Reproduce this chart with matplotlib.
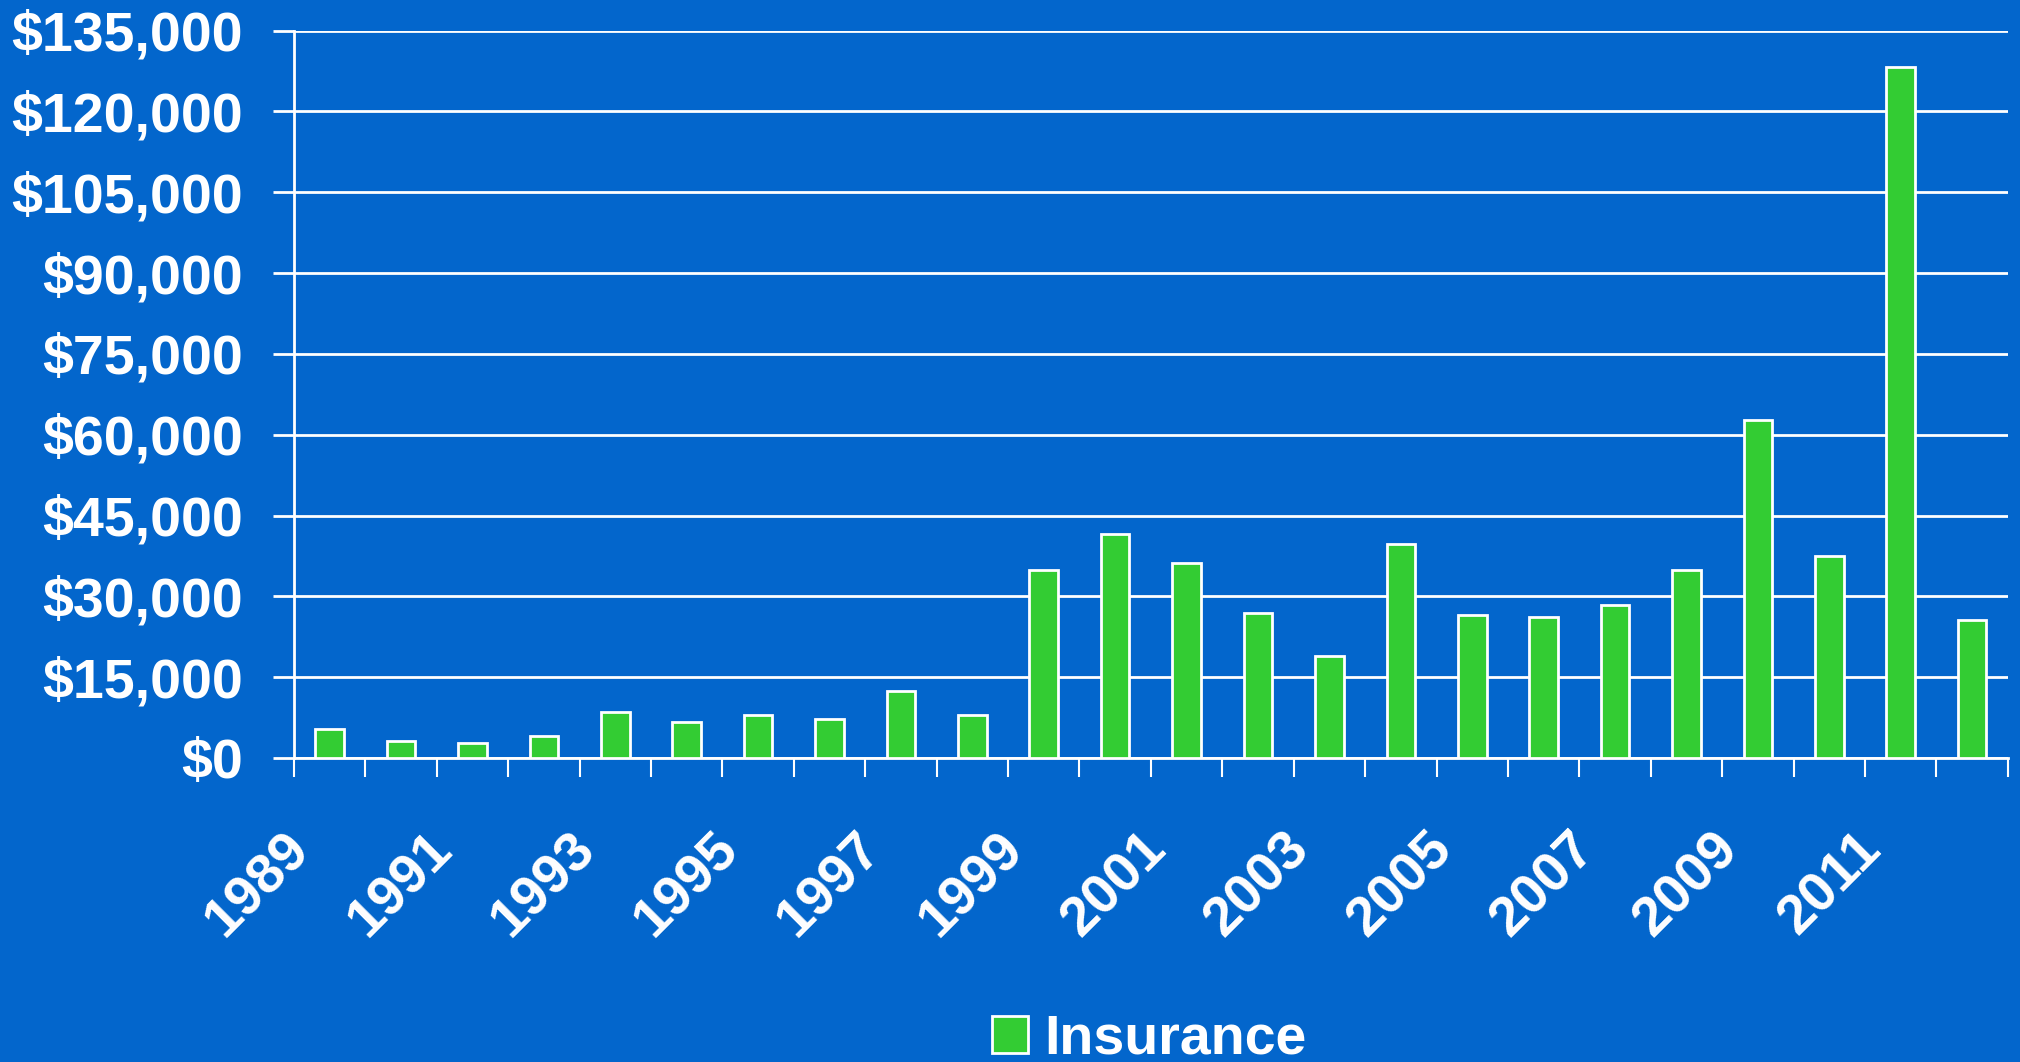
import numpy as np
import matplotlib.pyplot as plt
import matplotlib.transforms as mtransforms
from matplotlib.ticker import FuncFormatter, FixedLocator

# yearly values
years = list(range(1989, 2013))
insurance = [5400, 3200, 2800, 4100, 8500, 6700, 8000, 7200, 12500, 8000,
             34900, 41600, 36200, 26900, 19000, 39800, 26500, 26100, 28300, 34900,
             62700, 37500, 128300, 25600]
year_labels = [str(y) for y in years[::2]]
y_ticks = list(range(0, 135001, 15000))

bg = '#0366CC'
green = '#33CC33'

plt.rcParams['font.family'] = ['Liberation Sans', 'DejaVu Sans']
plt.rcParams['font.weight'] = 'bold'

fig = plt.figure(figsize=(20.2, 10.62), dpi=100, facecolor=bg)
ax = fig.add_axes([0.1455, 0.2863, 0.8485, 0.6848], facecolor=bg)

x = np.arange(len(years))
ax.bar(x, insurance, width=0.4, color=green, edgecolor='white', linewidth=2,
       label='Insurance', zorder=3)

ax.set_xlim(-0.5, len(years) - 0.5)
ax.set_ylim(0, 135000)
ax.set_yticks(y_ticks)
ax.yaxis.set_major_formatter(FuncFormatter(lambda v, p: '${:,.0f}'.format(v)))
ax.grid(axis='y', color='white', linewidth=2, zorder=1)
ax.tick_params(axis='y', colors='white', labelsize=40, length=15, width=2, pad=22)

# category boundary ticks and centered year labels
ax.xaxis.set_minor_locator(FixedLocator(np.arange(-0.5, len(years), 1)))
ax.set_xticks(x[::2])
ax.set_xticklabels(year_labels, rotation=45, ha='right', va='center',
                   rotation_mode='anchor', fontsize=40, color='white')
ax.tick_params(axis='x', which='major', length=0, pad=60)
ax.tick_params(axis='x', which='minor', length=14, width=1.5, color='white')
off = mtransforms.ScaledTranslation(-0.28, 0, fig.dpi_scale_trans)
for lbl in ax.get_xticklabels():
    lbl.set_transform(lbl.get_transform() + off)

for s in ['top', 'right']:
    ax.spines[s].set_visible(False)
for s in ['left', 'bottom']:
    ax.spines[s].set_color('white')
    ax.spines[s].set_linewidth(2)

leg = fig.legend(loc='center', bbox_to_anchor=(0.569, 0.021), frameon=False,
                 fontsize=40, handlelength=0.65, handleheight=0.65, handletextpad=0.3)
for t in leg.get_texts():
    t.set_color('white')

fig.savefig('out.png', dpi=100, facecolor=bg)
